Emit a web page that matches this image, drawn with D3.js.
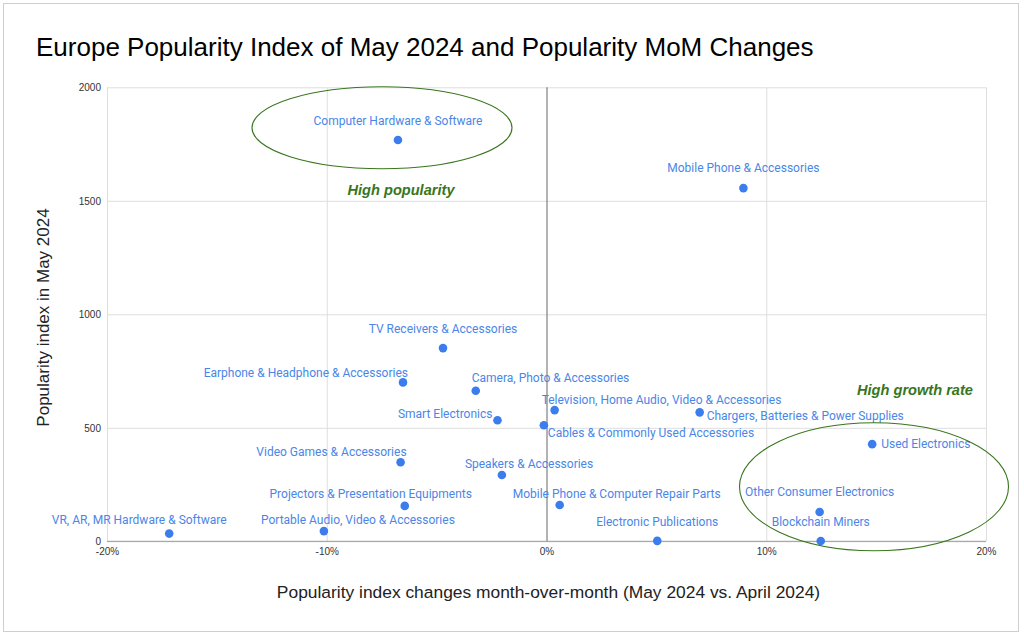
<!DOCTYPE html>
<html>
<head>
<meta charset="utf-8">
<script src="https://cdn.jsdelivr.net/npm/d3@7"></script>
<style>
  html, body { margin: 0; padding: 0; background: #fff; }
  svg { display: block; }
</style>
</head>
<body>
<svg id="chart" width="1024" height="637"></svg>
<script>
// ---- Data ----
const categories = [
  "Computer Hardware & Software",
  "Mobile Phone & Accessories",
  "TV Receivers & Accessories",
  "Earphone & Headphone & Accessories",
  "Camera, Photo & Accessories",
  "Smart Electronics",
  "Cables & Commonly Used Accessories",
  "Television, Home Audio, Video & Accessories",
  "Chargers, Batteries & Power Supplies",
  "Used Electronics",
  "Video Games & Accessories",
  "Speakers & Accessories",
  "Projectors & Presentation Equipments",
  "Mobile Phone & Computer Repair Parts",
  "VR, AR, MR Hardware & Software",
  "Portable Audio, Video & Accessories",
  "Electronic Publications",
  "Blockchain Miners",
  "Other Consumer Electronics"
];
const momChange = [-6.76, 8.96, -4.71, -6.53, -3.22, -2.23, -0.12, 0.37, 6.97, 14.82,
                   -6.64, -2.03, -6.45, 0.60, -17.17, -10.13, 5.04, 12.48, 12.43];
const popularityIndex = [1768, 1556, 851, 700, 663, 533, 511, 578, 568, 428,
                         348, 292, 156, 160, 34, 45, 2, 1, 129];
const xTicks = [-20, -10, 0, 10, 20];
const yTicks = [0, 500, 1000, 1500, 2000];

// label placement (anchor, dx, dy relative to the point) – layout only
const labelAnchor = ["middle","middle","middle","end","start","end","start","start","start","start",
                     "end","start","middle","middle","middle","middle","middle","middle","middle"];
const labelDx = [0, 0, 0, 5, -4, -5, 4, -13, 7, 9, 6, -37, -34, 57, -30, 34, 0, 0, 0];
const labelDy = [-19, -20, -19, -10, -13, -7, 7, -10, 3, 0, -11, -11, -12, -11, -14, -11, -19, -19, -20];

// ---- Layout ----
const svg = d3.select("#chart");
const W = 1024, H = 637;
const plot = { left: 107, right: 986, top: 87.3, bottom: 541.3 };

svg.append("rect").attr("x", 0).attr("y", 0).attr("width", W).attr("height", H).attr("fill", "#fff");
svg.append("rect").attr("x", 3.5).attr("y", 3.5).attr("width", 1015).attr("height", 628)
  .attr("fill", "none").attr("stroke", "#cfcfcf").attr("stroke-width", 1);

const x = d3.scaleLinear().domain([-20, 20]).range([plot.left, plot.right]);
const y = d3.scaleLinear().domain([0, 2000]).range([plot.bottom, plot.top]);

// Title
svg.append("text")
  .attr("x", 36).attr("y", 56)
  .attr("font-family", "Liberation Sans, Arial, sans-serif")
  .attr("font-size", 26)
  .attr("fill", "#000")
  .text("Europe Popularity Index of May 2024 and Popularity MoM Changes");

// Y axis with gridlines
const yAxis = svg.append("g")
  .attr("transform", `translate(${plot.left},0)`)
  .call(d3.axisLeft(y).tickValues(yTicks).tickFormat(d3.format("d"))
    .tickSize(-(plot.right - plot.left)).tickPadding(6));
yAxis.select(".domain").remove();
yAxis.selectAll("line").attr("stroke", "#dedede").attr("stroke-width", 1);
yAxis.selectAll("text").attr("font-family", "Liberation Sans, Arial, sans-serif")
  .attr("font-size", 10).attr("fill", "#333");

// X axis with gridlines
const xAxis = svg.append("g")
  .attr("transform", `translate(0,${plot.bottom})`)
  .call(d3.axisBottom(x).tickValues(xTicks).tickFormat(d => d + "%")
    .tickSize(-(plot.bottom - plot.top)).tickPadding(7));
xAxis.select(".domain").remove();
xAxis.selectAll("line").attr("stroke", d => d === 0 ? "#666" : "#dedede").attr("stroke-width", 1);
xAxis.selectAll("text").attr("font-family", "Liberation Sans, Arial, sans-serif")
  .attr("font-size", 10).attr("fill", "#333");

// baseline at 0
svg.append("line")
  .attr("x1", plot.left).attr("x2", plot.right)
  .attr("y1", y(0)).attr("y2", y(0))
  .attr("stroke", "#999").attr("stroke-width", 1);

// Axis titles
svg.append("text")
  .attr("transform", `translate(49,${(207 + 428) / 2}) rotate(-90)`)
  .attr("text-anchor", "middle")
  .attr("font-family", "Liberation Sans, Arial, sans-serif")
  .attr("font-size", 17).attr("fill", "#222")
  .text("Popularity index in May 2024");

svg.append("text")
  .attr("x", 548.5).attr("y", 598)
  .attr("text-anchor", "middle")
  .attr("font-family", "Liberation Sans, Arial, sans-serif")
  .attr("font-size", 17.4).attr("fill", "#222")
  .text("Popularity index changes month-over-month (May 2024 vs. April 2024)");

// Points
const data = categories.map((c, i) => ({ name: c, mom: momChange[i], idx: popularityIndex[i],
  anchor: labelAnchor[i], dx: labelDx[i], dy: labelDy[i] }));

svg.append("g").selectAll("circle").data(data).join("circle")
  .attr("cx", d => x(d.mom)).attr("cy", d => y(d.idx))
  .attr("r", 4.3).attr("fill", "#3b7ded");

svg.append("g").selectAll("text").data(data).join("text")
  .attr("x", d => x(d.mom) + d.dx)
  .attr("y", d => y(d.idx) + d.dy)
  .attr("dy", "0.35em")
  .attr("text-anchor", d => d.anchor)
  .attr("font-family", "Roboto, Arial, sans-serif")
  .attr("font-size", 12)
  .attr("fill", "#4a86e8")
  .text(d => d.name);

// Annotations
const green = "#38761d";
svg.append("ellipse")
  .attr("cx", 382).attr("cy", 127.7).attr("rx", 130).attr("ry", 41)
  .attr("fill", "none").attr("stroke", green).attr("stroke-width", 1.1);
svg.append("ellipse")
  .attr("cx", 874).attr("cy", 486.7).attr("rx", 134.5).attr("ry", 64)
  .attr("fill", "none").attr("stroke", green).attr("stroke-width", 1.1);

svg.append("text")
  .attr("x", 401).attr("y", 190).attr("dy", "0.35em")
  .attr("text-anchor", "middle")
  .attr("font-family", "Liberation Sans, Arial, sans-serif")
  .attr("font-size", 14.6).attr("font-weight", "bold").attr("font-style", "italic")
  .attr("fill", green)
  .text("High popularity");
svg.append("text")
  .attr("x", 915).attr("y", 390).attr("dy", "0.35em")
  .attr("text-anchor", "middle")
  .attr("font-family", "Liberation Sans, Arial, sans-serif")
  .attr("font-size", 14.6).attr("font-weight", "bold").attr("font-style", "italic")
  .attr("fill", green)
  .text("High growth rate");
</script>
</body>
</html>
